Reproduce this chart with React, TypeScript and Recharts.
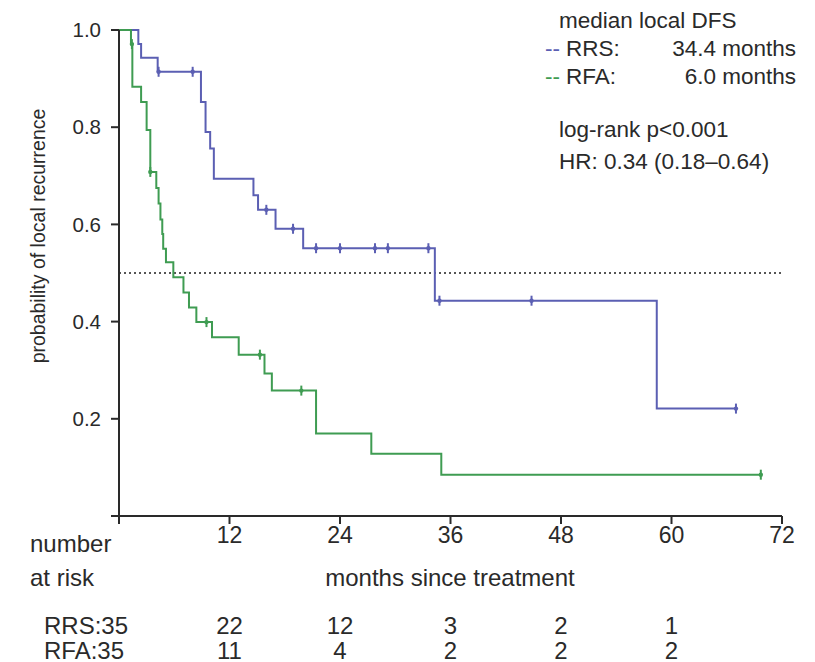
import { ComposedChart, Line, Scatter, XAxis, YAxis, ReferenceLine } from 'recharts'

// Kaplan-Meier steps (months, probability)
const rrsTime = [0, 2.1, 2.4, 4.2, 8.9, 9.4, 9.9, 10.3, 14.6, 15.1, 17.0, 20.0, 34.3, 58.4, 67.0]
const rrsProb = [1.0, 0.971, 0.943, 0.914, 0.852, 0.79, 0.756, 0.694, 0.66, 0.63, 0.591, 0.551, 0.443, 0.221, 0.221]
const rfaTime = [0, 1.3, 1.45, 2.4, 3.0, 3.4, 4.05, 4.3, 4.5, 4.7, 4.8, 5.1, 5.9, 7.0, 7.6, 8.4, 10.1, 13.0, 15.8, 16.6, 21.4, 27.4, 35.0, 69.7]
const rfaProb = [1.0, 0.971, 0.883, 0.852, 0.794, 0.708, 0.675, 0.643, 0.61, 0.58, 0.55, 0.522, 0.491, 0.46, 0.429, 0.399, 0.368, 0.332, 0.293, 0.258, 0.17, 0.128, 0.085, 0.085]

// censored observations
const rrsCensorTime = [4.3, 8.0, 16.0, 18.9, 21.4, 24.0, 27.8, 29.2, 33.6, 34.8, 44.8, 67.0]
const rrsCensorProb = [0.914, 0.914, 0.63, 0.591, 0.551, 0.551, 0.551, 0.551, 0.551, 0.443, 0.443, 0.221]
const rfaCensorTime = [1.4, 3.4, 9.5, 15.3, 19.8, 69.7]
const rfaCensorProb = [0.971, 0.708, 0.399, 0.332, 0.258, 0.085]

const xTicks = [0, 12, 24, 36, 48, 60, 72]
const yTicks = [0, 0.2, 0.4, 0.6, 0.8, 1.0]
const riskMonths = [12, 24, 36, 48, 60]
const riskRrs = [22, 12, 3, 2, 1]
const riskRfa = [11, 4, 2, 2, 2]

const BLUE = '#5b5fb3'
const GREEN = '#3f9c52'
const INK = '#2a2a2a'
const FONT = '"Liberation Sans", Arial, sans-serif'

const zip = (t: number[], p: number[]) => t.map((v, i) => ({ t: v, p: p[i] }))
const rrsData = zip(rrsTime, rrsProb)
const rfaData = zip(rfaTime, rfaProb)
const rrsCensor = zip(rrsCensorTime, rrsCensorProb)
const rfaCensor = zip(rfaCensorTime, rfaCensorProb)

const censorMark = (color: string) => (props: any) => {
  const { cx, cy } = props
  return (
    <g>
      <line x1={cx} x2={cx} y1={cy - 5} y2={cy + 5} stroke={color} strokeWidth={2} />
      <circle cx={cx} cy={cy} r={2.2} fill={color} />
    </g>
  )
}

// plot area bounds, used only to place the risk table text under the ticks
const X0 = 119
const X1 = 782
const monthX = (m: number) => X0 + (m / 72) * (X1 - X0)

export default function App() {
  return (
    <div style={{ position: 'absolute', left: 0, top: 0, width: 815, height: 662, background: '#fff', fontFamily: FONT }}>
      <ComposedChart width={815} height={662} margin={{ top: 30, right: 33, left: 49, bottom: 116 }}>
        <XAxis
          dataKey="t"
          type="number"
          domain={[0, 72]}
          ticks={xTicks}
          tickFormatter={(v) => (v === 0 ? '' : String(v))}
          tick={{ fill: INK, fontSize: 23, fontFamily: FONT }}
          stroke={INK}
          strokeWidth={2}
          tickSize={8}
          tickMargin={3}
          height={30}
          allowDuplicatedCategory={false}
        />
        <YAxis
          dataKey="p"
          type="number"
          domain={[0, 1]}
          ticks={yTicks}
          tickFormatter={(v) => (v === 0 ? '' : v.toFixed(1))}
          tick={{ fill: INK, fontSize: 20.5, fontFamily: FONT }}
          stroke={INK}
          strokeWidth={2}
          tickSize={8}
          tickMargin={10}
          width={70}
        />
        <ReferenceLine y={0.5} stroke="#555" strokeDasharray="2 3" strokeWidth={2} />
        <Line data={rrsData} dataKey="p" type="stepAfter" stroke={BLUE} strokeWidth={2} dot={false} isAnimationActive={false} />
        <Line data={rfaData} dataKey="p" type="stepAfter" stroke={GREEN} strokeWidth={2} dot={false} isAnimationActive={false} />
        <Scatter data={rrsCensor} dataKey="p" shape={censorMark(BLUE)} isAnimationActive={false} />
        <Scatter data={rfaCensor} dataKey="p" shape={censorMark(GREEN)} isAnimationActive={false} />
      </ComposedChart>

      <svg width={815} height={662} style={{ position: 'absolute', left: 0, top: 0, pointerEvents: 'none' }}>
        <g fontFamily={FONT} fill={INK} dominantBaseline="central">
          <text x={38} y={236} fontSize={19.5} textAnchor="middle" transform="rotate(-90 38 236)">probability of local recurrence</text>

          <g fontSize={24}>
            <text x={30} y={543}>number</text>
            <text x={30} y={577}>at risk</text>
            <text x={450} y={577} textAnchor="middle">months since treatment</text>

            <text x={44} y={625}>RRS:35</text>
            <text x={44} y={650}>RFA:35</text>
            {riskMonths.map((m, i) => (
              <text key={'r' + m} x={monthX(m)} y={625} textAnchor="middle">{riskRrs[i]}</text>
            ))}
            {riskMonths.map((m, i) => (
              <text key={'f' + m} x={monthX(m)} y={650} textAnchor="middle">{riskRfa[i]}</text>
            ))}
          </g>

          <g fontSize={22.5}>
            <text x={559} y={20}>median local DFS</text>
            <text x={545} y={48} fill={BLUE}>--</text>
            <text x={566} y={48}>RRS:</text>
            <text x={796} y={48} textAnchor="end">34.4 months</text>
            <text x={545} y={76} fill={GREEN}>--</text>
            <text x={566} y={76}>RFA:</text>
            <text x={796} y={76} textAnchor="end">6.0 months</text>

            <text x={559} y={129}>log-rank p&lt;0.001</text>
            <text x={559} y={161}>HR: 0.34 (0.18–0.64)</text>
          </g>
        </g>
      </svg>
    </div>
  )
}
